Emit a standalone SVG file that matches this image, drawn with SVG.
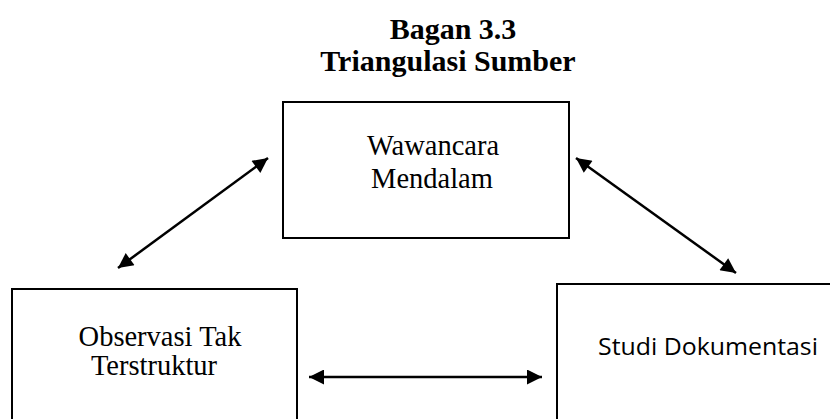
<svg xmlns="http://www.w3.org/2000/svg" width="830" height="419" viewBox="0 0 830 419">
<style>
.box{fill:#fff;stroke:#000;stroke-width:2}
.serif{font-family:"Liberation Serif","Times New Roman",serif;font-size:28.5px;fill:#000;text-anchor:middle}
.title{font-family:"Liberation Serif","Times New Roman",serif;font-size:30px;font-weight:bold;fill:#000;text-anchor:middle}
.sans{font-family:"Open Sans","Noto Sans",sans-serif;font-size:23px;fill:#000;text-anchor:middle}
.conn{stroke:#000;stroke-width:2.5;fill:none;marker-start:url(#ah);marker-end:url(#ah)}
</style>
<defs>
<marker id="ah" viewBox="0 0 10 10" refX="10" refY="5" markerWidth="17" markerHeight="15" markerUnits="userSpaceOnUse" orient="auto-start-reverse">
<path d="M0,0 L10,5 L0,10 z" fill="#000"/>
</marker>
</defs>
<rect width="830" height="419" fill="#fff"/>
<g id="title">
<text class="title" x="453" y="39">Bagan 3.3</text>
<text class="title" x="448" y="71">Triangulasi Sumber</text>
</g>
<g id="wawancara">
<rect class="box" x="283" y="102" width="286" height="136"/>
<text class="serif" x="433" y="155">Wawancara</text>
<text class="serif" x="432" y="188">Mendalam</text>
</g>
<g id="observasi">
<rect class="box" x="12" y="289" width="285" height="140"/>
<text class="serif" x="160" y="346">Observasi Tak</text>
<text class="serif" x="154" y="375">Terstruktur</text>
</g>
<g id="studi">
<rect class="box" x="557" y="284" width="300" height="145"/>
<text class="sans" x="708" y="355" textLength="220" lengthAdjust="spacingAndGlyphs">Studi Dokumentasi</text>
</g>
<g id="connectors">
<line class="conn" x1="118" y1="268" x2="268" y2="158"/>
<line class="conn" x1="576" y1="158" x2="736" y2="273"/>
<line class="conn" x1="309" y1="377" x2="542" y2="377"/>
</g>
</svg>
